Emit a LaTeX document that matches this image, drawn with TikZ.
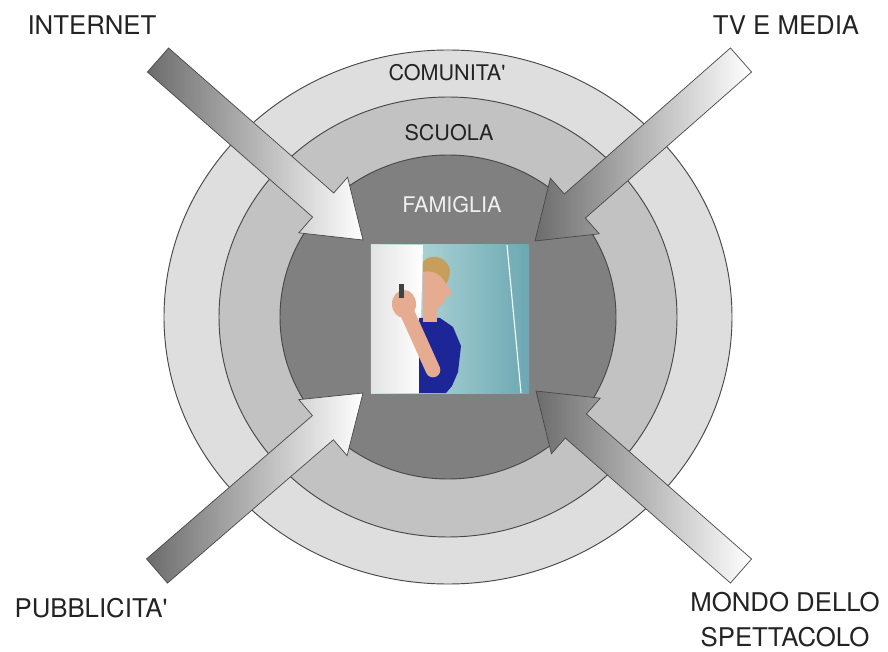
\documentclass[tikz,border=0pt]{standalone}
\usepackage{fontspec}
\setmainfont{TeX Gyre Heros}[Ligatures=TeXOff]
\usetikzlibrary{calc}

\definecolor{ringout}{RGB}{222,222,222}
\definecolor{ringmid}{RGB}{194,194,194}
\definecolor{ringin}{RGB}{128,128,128}
\definecolor{rimline}{RGB}{72,72,72}
\definecolor{txtdark}{RGB}{35,35,35}
\definecolor{arrowdark}{RGB}{108,108,108}
\definecolor{skin}{RGB}{230,172,146}
\definecolor{hair}{RGB}{200,158,92}
\definecolor{shirt}{RGB}{28,38,150}
\definecolor{tealL}{RGB}{198,228,228}
\definecolor{tealR}{RGB}{108,168,178}

\tikzset{
  ring/.style={draw=rimline, line width=0.8pt},
  bigarrow/.style={draw=rimline, line width=0.6pt, left color=arrowdark, right color=white},
  outlabel/.style={text=txtdark, font=\fontsize{22}{30}\selectfont, align=center, inner sep=0pt},
  ringlabel/.style={text=txtdark, font=\fontsize{18.4}{22}\selectfont, inner sep=0pt},
}

% block arrow from tail #1 to tip #2
\newcommand{\fatarrow}[2]{%
  \coordinate (#1b) at ($(#2)!1.59cm!(#1)$);
  \draw[bigarrow] ($(#1)!0.48cm!90:(#2)$) -- ($(#1b)!0.48cm!90:(#2)$)
    -- ($(#1b)!1.11cm!90:(#2)$) -- (#2) -- ($(#1b)!1.11cm!-90:(#2)$)
    -- ($(#1b)!0.48cm!-90:(#2)$) -- ($(#1)!0.48cm!-90:(#2)$) -- cycle;
}

\begin{document}
\begin{tikzpicture}[x=0.03cm, y=-0.03cm]
  \useasboundingbox (0,0) rectangle (888,652);

  %%rings
  \coordinate (c) at (448,317);
  \draw[ring, fill=ringout] (c) ellipse [x radius=284, y radius=267];
  \draw[ring, fill=ringmid] (c) ellipse [x radius=229, y radius=220];
  \draw[ring, fill=ringin] (c) ellipse [x radius=168, y radius=162];

  \node[ringlabel] (comunita) at (447,73) {COMUNITA'};
  \node[ringlabel] (scuola) at (449,133) {SCUOLA};
  \node[ringlabel, text=white!94!black] (famiglia) at (452,205) {FAMIGLIA};

  %%outer labels
  \node[outlabel] (internet) at (92,25) {INTERNET};
  \node[outlabel] (media) at (786,25) {TV E MEDIA};
  \node[outlabel] (pubb) at (91,608) {PUBBLICITA'};
  \node[outlabel] (mondo) at (785,620) {MONDO DELLO\\SPETTACOLO};

  %%arrows
  \coordinate (tInternet) at (158,60);
  \coordinate (pInternet) at (363,240);
  \coordinate (tMedia) at (741,60);
  \coordinate (pMedia) at (535,241);
  \coordinate (tPubb) at (157,571);
  \coordinate (pPubb) at (363,393);
  \coordinate (tMondo) at (741,571);
  \coordinate (pMondo) at (536,391);
  \fatarrow{tInternet}{pInternet}
  \fatarrow{tMedia}{pMedia}
  \fatarrow{tPubb}{pPubb}
  \fatarrow{tMondo}{pMondo}

  %%photo
  \node[inner sep=0pt, minimum width=4.74cm, minimum height=4.44cm,
        left color=tealL, right color=tealR] (foto) at (450,319) {};
  \shade[left color=gray!22, right color=white] (371,245) -- (423,245) -- (419,393) -- (371,393) -- cycle;
  \draw[white!75!tealL, line width=1pt] (507,245) -- (521,393);
  % boy
  \fill[shirt] (419,318) -- (440,318) -- (453,327) -- (461,346) -- (458,372)
    -- (452,386) -- (446,393) -- (419,393) -- cycle;
  \fill[skin] (423,305) rectangle (437,322);
  \fill[skin] (423,266) .. controls (440,262) and (449,276) .. (447,292)
    .. controls (446,305) and (436,312) .. (423,312) -- cycle;
  \fill[skin] (448,292) ellipse [x radius=3, y radius=5];
  \fill[hair] (423,262) .. controls (428,254) and (446,254) .. (450,270)
    .. controls (450,276) and (448,281) .. (446,284)
    .. controls (441,273) and (431,270) .. (423,272) -- cycle;
  \draw[skin, line width=0.44cm, line cap=round] (406,310) -- (433,370);
  \fill[skin] (404,304) ellipse [x radius=12, y radius=14];
  \fill[black!75] (399,284) rectangle (404,298);
\end{tikzpicture}
\end{document}
